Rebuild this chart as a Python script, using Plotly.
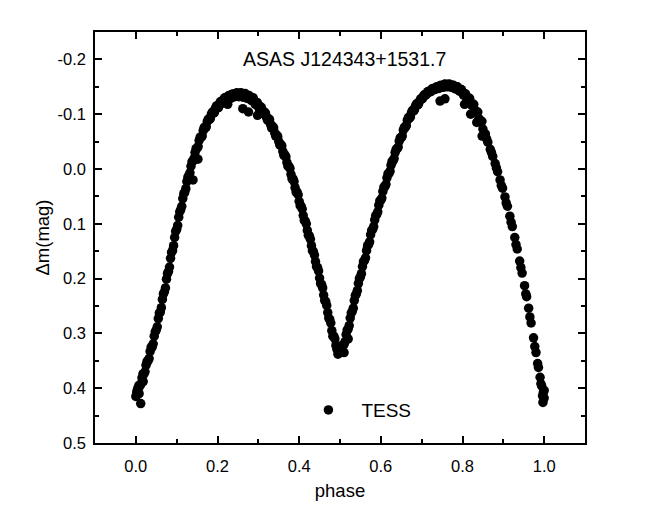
import plotly.graph_objects as go

# phase values (dense part, then sparse tail, then scatter points)
phase = [
    0.000, 0.005, 0.010, 0.015, 0.020, 0.025, 0.030, 0.035, 0.040, 0.045,
    0.050, 0.055, 0.060, 0.065, 0.070, 0.075, 0.080, 0.085, 0.090, 0.095,
    0.100, 0.105, 0.110, 0.115, 0.120, 0.125, 0.130, 0.135, 0.140, 0.145,
    0.150, 0.155, 0.160, 0.165, 0.170, 0.175, 0.180, 0.185, 0.190, 0.195,
    0.200, 0.205, 0.210, 0.215, 0.220, 0.225, 0.230, 0.235, 0.240, 0.245,
    0.250, 0.255, 0.260, 0.265, 0.270, 0.275, 0.280, 0.285, 0.290, 0.295,
    0.300, 0.305, 0.310, 0.315, 0.320, 0.325, 0.330, 0.335, 0.340, 0.345,
    0.350, 0.355, 0.360, 0.365, 0.370, 0.375, 0.380, 0.385, 0.390, 0.395,
    0.400, 0.405, 0.410, 0.415, 0.420, 0.425, 0.430, 0.435, 0.440, 0.445,
    0.450, 0.455, 0.460, 0.465, 0.470, 0.475, 0.480, 0.485, 0.490, 0.495,
    0.500, 0.505, 0.510, 0.515, 0.520, 0.525, 0.530, 0.535, 0.540, 0.545,
    0.550, 0.555, 0.560, 0.565, 0.570, 0.575, 0.580, 0.585, 0.590, 0.595,
    0.600, 0.605, 0.610, 0.615, 0.620, 0.625, 0.630, 0.635, 0.640, 0.645,
    0.650, 0.655, 0.660, 0.665, 0.670, 0.675, 0.680, 0.685, 0.690, 0.695,
    0.700, 0.705, 0.710, 0.715, 0.720, 0.725, 0.730, 0.735, 0.740, 0.745,
    0.750, 0.755, 0.760, 0.765, 0.770, 0.775, 0.780, 0.785, 0.790, 0.795,
    0.800, 0.805, 0.810, 0.815, 0.820, 0.825, 0.830, 0.835, 0.840, 0.845,
    0.850,
    0.856, 0.862, 0.868, 0.874, 0.880, 0.886, 0.892, 0.898, 0.904, 0.910,
    0.916, 0.922, 0.928, 0.934, 0.940, 0.946, 0.952, 0.957, 0.962, 0.968,
    0.974, 0.980, 0.986, 0.990, 0.994, 0.998, 1.000, 0.992, 0.996,
    0.859, 0.871, 0.883, 0.895, 0.907, 0.919, 0.931, 0.943, 0.955, 0.965,
    0.977, 0.984, 0.997, 1.000,
    0.012, 0.003, 0.008, 0.018, 0.262, 0.276, 0.298, 0.225, 0.152, 0.140,
    0.745, 0.757, 0.805, 0.820, 0.835, 0.848, 0.495, 0.510, 0.520,
]

dmag = [
    0.415, 0.400, 0.396, 0.381, 0.374, 0.358, 0.350, 0.333, 0.325, 0.305,
    0.294, 0.273, 0.261, 0.238, 0.224, 0.201, 0.187, 0.163, 0.149, 0.125,
    0.110, 0.088, 0.074, 0.054, 0.042, 0.023, 0.012, -0.005, -0.015, -0.030,
    -0.038, -0.052, -0.058, -0.070, -0.075, -0.087, -0.090, -0.100, -0.102, -0.111,
    -0.112, -0.120, -0.120, -0.127, -0.126, -0.132, -0.130, -0.136, -0.133, -0.138,
    -0.134, -0.138, -0.134, -0.137, -0.132, -0.134, -0.128, -0.129, -0.122, -0.122,
    -0.114, -0.114, -0.105, -0.104, -0.094, -0.092, -0.081, -0.078, -0.066, -0.062,
    -0.050, -0.045, -0.032, -0.026, -0.012, -0.005, 0.010, 0.018, 0.034, 0.042,
    0.059, 0.068, 0.085, 0.095, 0.112, 0.122, 0.140, 0.151, 0.169, 0.180,
    0.199, 0.211, 0.230, 0.242, 0.262, 0.275, 0.295, 0.305, 0.322, 0.326,
    0.333, 0.322, 0.320, 0.302, 0.292, 0.272, 0.260, 0.240, 0.228, 0.209,
    0.197, 0.178, 0.167, 0.149, 0.138, 0.120, 0.110, 0.093, 0.083, 0.066,
    0.057, 0.041, 0.032, 0.016, 0.008, -0.007, -0.015, -0.030, -0.037, -0.051,
    -0.057, -0.071, -0.076, -0.089, -0.093, -0.103, -0.106, -0.115, -0.117, -0.124,
    -0.128, -0.134, -0.135, -0.141, -0.141, -0.146, -0.145, -0.149, -0.148, -0.152,
    -0.150, -0.154, -0.151, -0.154, -0.151, -0.153, -0.149, -0.150, -0.145, -0.145,
    -0.139, -0.138, -0.131, -0.129, -0.121, -0.117, -0.108, -0.103, -0.092, -0.086,
    -0.073,
    -0.064, -0.049, -0.036, -0.023, -0.010, 0.005, 0.020, 0.035, 0.051, 0.068,
    0.086, 0.105, 0.125, 0.146, 0.168, 0.190, 0.213, 0.233, 0.254, 0.281,
    0.308, 0.335, 0.362, 0.380, 0.396, 0.408, 0.418, 0.392, 0.414,
    -0.055, -0.030, -0.002, 0.030, 0.062, 0.097, 0.138, 0.180, 0.228, 0.270,
    0.324, 0.355, 0.426, 0.404,
    0.428, 0.405, 0.410, 0.388, -0.110, -0.104, -0.098, -0.118, -0.018, 0.020,
    -0.124, -0.128, -0.118, -0.100, -0.085, -0.060, 0.338, 0.335, 0.310,
]

phase_b = [
    0.0025, 0.0075, 0.0125, 0.0175, 0.0225, 0.0275, 0.0325, 0.0375, 0.0425, 0.0475,
    0.0525, 0.0575, 0.0625, 0.0675, 0.0725, 0.0775, 0.0825, 0.0875, 0.0925, 0.0975,
    0.1025, 0.1075, 0.1125, 0.1175, 0.1225, 0.1275, 0.1325, 0.1375, 0.1425, 0.1475,
    0.1525, 0.1575, 0.1625, 0.1675, 0.1725, 0.1775, 0.1825, 0.1875, 0.1925, 0.1975,
    0.2025, 0.2075, 0.2125, 0.2175, 0.2225, 0.2275, 0.2325, 0.2375, 0.2425, 0.2475,
    0.2525, 0.2575, 0.2625, 0.2675, 0.2725, 0.2775, 0.2825, 0.2875, 0.2925, 0.2975,
    0.3025, 0.3075, 0.3125, 0.3175, 0.3225, 0.3275, 0.3325, 0.3375, 0.3425, 0.3475,
    0.3525, 0.3575, 0.3625, 0.3675, 0.3725, 0.3775, 0.3825, 0.3875, 0.3925, 0.3975,
    0.4025, 0.4075, 0.4125, 0.4175, 0.4225, 0.4275, 0.4325, 0.4375, 0.4425, 0.4475,
    0.4525, 0.4575, 0.4625, 0.4675, 0.4725, 0.4775, 0.4825, 0.4875, 0.4925, 0.4975,
    0.5025, 0.5075, 0.5125, 0.5175, 0.5225, 0.5275, 0.5325, 0.5375, 0.5425, 0.5475,
    0.5525, 0.5575, 0.5625, 0.5675, 0.5725, 0.5775, 0.5825, 0.5875, 0.5925, 0.5975,
    0.6025, 0.6075, 0.6125, 0.6175, 0.6225, 0.6275, 0.6325, 0.6375, 0.6425, 0.6475,
    0.6525, 0.6575, 0.6625, 0.6675, 0.6725, 0.6775, 0.6825, 0.6875, 0.6925, 0.6975,
    0.7025, 0.7075, 0.7125, 0.7175, 0.7225, 0.7275, 0.7325, 0.7375, 0.7425, 0.7475,
    0.7525, 0.7575, 0.7625, 0.7675, 0.7725, 0.7775, 0.7825, 0.7875, 0.7925, 0.7975,
    0.8025, 0.8075, 0.8125, 0.8175, 0.8225, 0.8275, 0.8325, 0.8375, 0.8425, 0.8475,
]

dmag_b = [
    0.408, 0.395, 0.392, 0.374, 0.370, 0.351, 0.346, 0.325, 0.319, 0.297,
    0.288, 0.263, 0.253, 0.228, 0.217, 0.191, 0.179, 0.152, 0.140, 0.114,
    0.103, 0.078, 0.068, 0.045, 0.036, 0.015, 0.007, -0.013, -0.019, -0.037,
    -0.041, -0.058, -0.060, -0.076, -0.077, -0.091, -0.092, -0.104, -0.103, -0.115,
    -0.112, -0.123, -0.120, -0.130, -0.126, -0.134, -0.129, -0.137, -0.132, -0.139,
    -0.132, -0.139, -0.131, -0.138, -0.129, -0.134, -0.125, -0.130, -0.118, -0.121,
    -0.110, -0.112, -0.101, -0.102, -0.089, -0.090, -0.075, -0.075, -0.060, -0.059,
    -0.044, -0.042, -0.025, -0.022, -0.005, -0.001, 0.018, 0.023, 0.042, 0.047,
    0.067, 0.073, 0.094, 0.100, 0.121, 0.128, 0.149, 0.157, 0.178, 0.186,
    0.209, 0.217, 0.240, 0.249, 0.272, 0.281, 0.305, 0.310, 0.329, 0.334,
    0.331, 0.322, 0.315, 0.294, 0.286, 0.263, 0.254, 0.231, 0.222, 0.200,
    0.191, 0.169, 0.162, 0.140, 0.133, 0.112, 0.105, 0.085, 0.078, 0.058,
    0.053, 0.033, 0.028, 0.009, 0.004, -0.014, -0.019, -0.036, -0.040, -0.057,
    -0.060, -0.076, -0.079, -0.094, -0.095, -0.107, -0.108, -0.119, -0.119, -0.128,
    -0.129, -0.136, -0.137, -0.142, -0.141, -0.147, -0.145, -0.150, -0.147, -0.153,
    -0.149, -0.155, -0.150, -0.155, -0.149, -0.153, -0.146, -0.150, -0.142, -0.145,
    -0.135, -0.137, -0.127, -0.129, -0.116, -0.118, -0.104, -0.104, -0.087, -0.087,
]

x_ticks = [0.0, 0.2, 0.4, 0.6, 0.8, 1.0]
x_labels = ["0.0", "0.2", "0.4", "0.6", "0.8", "1.0"]
y_ticks = [-0.2, -0.1, 0.0, 0.1, 0.2, 0.3, 0.4, 0.5]
y_labels = ["-0.2", "-0.1", "0.0", "0.1", "0.2", "0.3", "0.4", "0.5"]

FONT = "Liberation Sans, Arial, sans-serif"

fig = go.Figure()
fig.add_trace(go.Scatter(
    x=phase + phase_b, y=dmag + dmag_b, mode="markers", name="TESS",
    marker=dict(color="black", size=9.5, line=dict(width=0)),
))

axis_common = dict(
    showline=True, linecolor="black", linewidth=1.5, mirror="ticks",
    ticks="inside", ticklen=7, tickwidth=1.5, tickcolor="black",
    showgrid=False, zeroline=False,
    tickfont=dict(family=FONT, size=16.5, color="black"),
)

fig.update_xaxes(
    range=[-0.1, 1.1], tickvals=x_ticks, ticktext=x_labels, ticklabelstandoff=7,
    minor=dict(dtick=0.1, tick0=0, ticks="inside", ticklen=4, tickwidth=1.5, tickcolor="black"),
    title=dict(text="phase", font=dict(family=FONT, size=18.5, color="black"), standoff=11),
    **axis_common,
)
fig.update_yaxes(
    range=[0.5, -0.25], tickvals=y_ticks, ticktext=y_labels, ticklabelstandoff=4,
    minor=dict(dtick=0.05, tick0=0, ticks="inside", ticklen=4, tickwidth=1.5, tickcolor="black"),
    title=dict(text="Δm(mag)", font=dict(family=FONT, size=18.5, color="black"), standoff=3),
    **axis_common,
)

fig.add_annotation(
    text="ASAS J124343+1531.7", xref="paper", yref="paper", x=0.51, y=0.934,
    xanchor="center", yanchor="middle",
    showarrow=False, font=dict(family=FONT, size=19.5, color="black"),
)

# the page body adds an 8 px offset, so the figure is 8 px smaller than the window
fig.update_layout(
    width=654, height=506,
    margin=dict(l=87, r=77, t=24, b=71),
    paper_bgcolor="white", plot_bgcolor="white",
    showlegend=True,
    legend=dict(x=0.409, y=0.080, xanchor="left", yanchor="middle",
                bgcolor="rgba(0,0,0,0)", itemwidth=56,
                font=dict(family=FONT, size=19, color="black")),
)

fig.write_html("out.html")
